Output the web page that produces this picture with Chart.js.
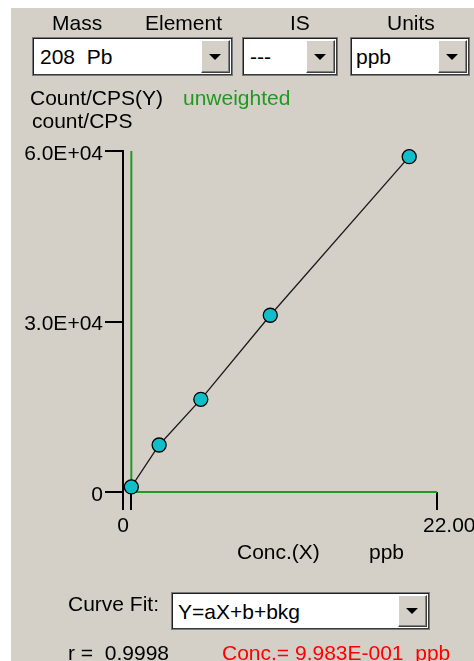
<!DOCTYPE html>
<html>
<head>
<meta charset="utf-8">
<script src="https://cdn.jsdelivr.net/npm/chart.js@4/dist/chart.umd.min.js"></script>
<style>
  html, body { margin: 0; padding: 0; background: #ffffff; }
  body { width: 474px; height: 661px; position: relative; overflow: hidden;
         font-family: "Liberation Sans", Arial, sans-serif; font-size: 21px; color: #000; }
  #panel { position: absolute; left: 11px; top: 8px; right: 0; bottom: 0; background: #D4D0C8; }
  #plot { position: absolute; left: 0; top: 0; }
  .t { position: absolute; line-height: 21px; white-space: pre; z-index: 2; }
  .combo { position: absolute; background: #ffffff; box-sizing: border-box;
           border: 1px solid #7a7a7a; box-shadow: inset 1px 1px 0 #202020, inset -1px -1px 0 #3a3a3a; z-index: 2; }
  .combo .v { position: absolute; left: 7px; line-height: 21px; white-space: pre; }
  .combo .btn { position: absolute; right: 2px; top: 2px; bottom: 2px; width: 29px; background: #D4D0C8;
                box-sizing: border-box; border-top: 1px solid #ffffff; border-left: 1px solid #ffffff;
                border-right: 1px solid #404040; border-bottom: 1px solid #404040;
                box-shadow: inset -1px -1px 0 #808080; }
  .combo .btn::after { content: ""; position: absolute; left: 50%; top: 50%; margin-left: -7px; margin-top: -3px;
                       border-left: 6px solid transparent; border-right: 6px solid transparent; border-top: 6px solid #000; }
</style>
</head>
<body>
<div id="panel"></div>

<div class="t" style="left:52px; top:12px;">Mass</div>
<div class="t" style="left:145px; top:12px;">Element</div>
<div class="t" style="left:290px; top:12px;">IS</div>
<div class="t" style="left:387px; top:12px;">Units</div>

<div class="combo" style="left:32px; top:37px; width:201px; height:39px;"><div class="v" style="top:8px;">208  Pb</div><div class="btn"></div></div>
<div class="combo" style="left:242px; top:37px; width:96px; height:39px;"><div class="v" style="top:8px;">---</div><div class="btn"></div></div>
<div class="combo" style="left:350px; top:37px; width:120px; height:39px;"><div class="v" style="top:8px; left:5px;">ppb</div><div class="btn"></div></div>

<div class="t" style="left:30px; top:87px;">Count/CPS(Y)</div>
<div class="t" style="left:183px; top:87px; color:#1f9a1f;">unweighted</div>
<div class="t" style="left:32px; top:110px;">count/CPS</div>

<div class="t" style="left:237px; top:541px;">Conc.(X)</div>
<div class="t" style="left:369px; top:541px;">ppb</div>

<div class="t" style="left:68px; top:593px;">Curve Fit:</div>
<div class="combo" style="left:171px; top:592px; width:259px; height:38px;"><div class="v" style="top:8px; left:6px;">Y=aX+b+bkg</div><div class="btn"></div></div>

<div class="t" style="left:68px; top:642px;">r =  0.9998</div>
<div class="t" style="left:222px; top:642px; color:#ff0000;">Conc.= 9.983E-001  ppb</div>

<canvas id="plot" width="474" height="661"></canvas>

<script>
// Calibration standards for 208 Pb (ppb vs. count/CPS)
const standardConc = [0, 2, 5, 10, 20];
const standardCounts = [900, 8270, 16300, 31100, 59000];

// Axis ticks and their labels
const xTickValues = [0, 22];
const xTickLabels = ['0', '22.00'];
const yTickValues = [0, 30000, 60000];
const yTickLabels = ['0', '3.0E+04', '6.0E+04'];

const X_MIN = -0.6;              // small gap between the frame and the zero line
const AXIS_FONT = { family: "'Liberation Sans', Arial, sans-serif", size: 21 };

const calPoints = standardConc.map((c, i) => ({ x: c, y: standardCounts[i] }));

// Zero lines in green along x = 0 and y = 0
const zeroVertical = [
  { x: xTickValues[0], y: yTickValues[0] },
  { x: xTickValues[0], y: yTickValues[yTickValues.length - 1] }
];
const zeroHorizontal = [
  { x: xTickValues[0], y: yTickValues[0] },
  { x: xTickValues[xTickValues.length - 1], y: yTickValues[0] }
];

new Chart(document.getElementById('plot'), {
  type: 'scatter',
  data: {
    datasets: [
      {
        label: 'standards',
        data: calPoints,
        showLine: true,
        borderColor: '#1a1a1a',
        borderWidth: 1.3,
        pointRadius: 7,
        pointBackgroundColor: '#10BECA',
        pointBorderColor: '#000000',
        pointBorderWidth: 1.3,
        clip: false,
        order: 0
      },
      {
        label: 'x0',
        data: zeroVertical,
        showLine: true,
        borderColor: '#229a22',
        borderWidth: 2,
        pointRadius: 0,
        clip: false,
        order: 2
      },
      {
        label: 'y0',
        data: zeroHorizontal,
        showLine: true,
        borderColor: '#229a22',
        borderWidth: 2,
        pointRadius: 0,
        clip: false,
        order: 2
      }
    ]
  },
  options: {
    responsive: false,
    animation: false,
    events: [],
    layout: { padding: { left: 0, top: 151, right: 37, bottom: 0 } },
    plugins: { legend: { display: false }, tooltip: { enabled: false } },
    scales: {
      x: {
        type: 'linear',
        min: X_MIN,
        max: xTickValues[xTickValues.length - 1],
        afterBuildTicks: (scale) => {
          scale.ticks = [X_MIN].concat(xTickValues).map(v => ({ value: v }));
        },
        afterFit: (scale) => {
          scale.height = 169;
          scale.paddingLeft = 0;
          scale.paddingRight = 0;
        },
        border: { display: false },
        grid: {
          drawOnChartArea: false,
          drawTicks: true,
          tickLength: 18,
          color: '#000000',
          lineWidth: 2
        },
        ticks: {
          autoSkip: false,
          maxRotation: 0,
          align: 'start',
          labelOffset: -14,
          padding: 4,
          color: '#000000',
          font: AXIS_FONT,
          callback: (value) => {
            const i = xTickValues.indexOf(value);
            return i >= 0 ? xTickLabels[i] : '';
          }
        }
      },
      y: {
        type: 'linear',
        min: yTickValues[0],
        max: yTickValues[yTickValues.length - 1],
        afterBuildTicks: (scale) => {
          scale.ticks = yTickValues.map(v => ({ value: v }));
        },
        afterFit: (scale) => {
          scale.width = 123;
          scale.paddingTop = 0;
          scale.paddingBottom = 0;
        },
        border: { display: true, color: '#000000', width: 2 },
        grid: {
          drawOnChartArea: false,
          drawTicks: true,
          tickLength: 18,
          color: '#000000',
          lineWidth: 2
        },
        ticks: {
          autoSkip: false,
          padding: 2,
          labelOffset: 3,
          color: '#000000',
          font: AXIS_FONT,
          callback: (value) => {
            const i = yTickValues.indexOf(value);
            return i >= 0 ? yTickLabels[i] : '';
          }
        }
      }
    }
  }
});
</script>
</body>
</html>
